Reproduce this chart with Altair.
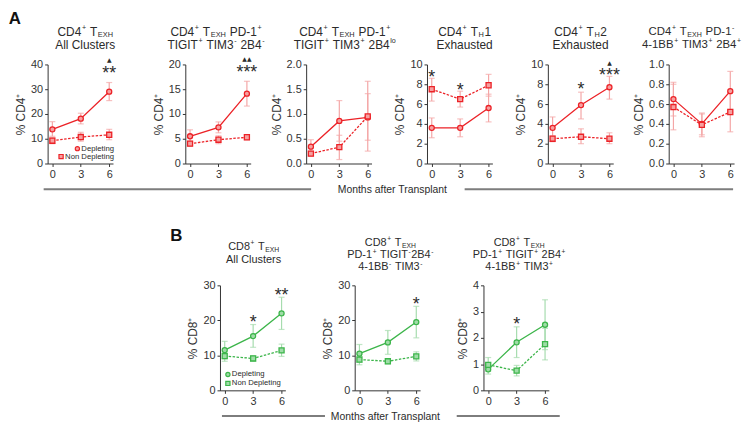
import altair as alt
import pandas as pd

FONT = "Liberation Sans"
TXT = "#2b2b2b"
MONTHS = [0, 3, 6]

# ---------------- Panel A (CD4+) values: mean, lower, upper ----------------
A1_DEP = [13.8, 18.1, 29.0]
A1_DEP_LO = [11.0, 16.0, 25.4]
A1_DEP_HI = [16.9, 20.3, 32.7]
A1_NON = [9.2, 10.7, 11.6]
A1_NON_LO = [8.0, 9.0, 9.6]
A1_NON_HI = [10.5, 12.6, 13.8]

A2_DEP = [5.5, 7.3, 14.1]
A2_DEP_LO = [4.2, 6.2, 11.6]
A2_DEP_HI = [6.8, 8.4, 16.6]
A2_NON = [4.0, 4.8, 5.3]
A2_NON_LO = [3.5, 4.0, 4.8]
A2_NON_HI = [4.5, 5.6, 5.8]

A3_DEP = [0.34, 0.86, 0.93]
A3_DEP_LO = [0.20, 0.45, 0.47]
A3_DEP_HI = [0.48, 1.27, 1.41]
A3_NON = [0.20, 0.33, 0.95]
A3_NON_LO = [0.15, 0.08, 0.25]
A3_NON_HI = [0.25, 0.57, 1.66]

A4_DEP = [3.6, 3.6, 5.6]
A4_DEP_LO = [2.6, 2.7, 4.2]
A4_DEP_HI = [4.6, 4.5, 7.0]
A4_NON = [7.5, 6.5, 7.9]
A4_NON_LO = [6.3, 5.7, 6.8]
A4_NON_HI = [8.6, 7.3, 9.0]

A5_DEP = [3.6, 5.9, 7.7]
A5_DEP_LO = [2.5, 4.5, 6.5]
A5_DEP_HI = [4.7, 7.2, 8.8]
A5_NON = [2.5, 2.7, 2.5]
A5_NON_LO = [2.2, 2.0, 2.0]
A5_NON_HI = [2.8, 3.5, 3.1]

A6_DEP = [0.65, 0.40, 0.73]
A6_DEP_LO = [0.48, 0.29, 0.52]
A6_DEP_HI = [0.82, 0.51, 0.93]
A6_NON = [0.57, 0.39, 0.52]
A6_NON_LO = [0.34, 0.27, 0.32]
A6_NON_HI = [0.80, 0.50, 0.72]

# ---------------- Panel B (CD8+) ----------------
B1_DEP = [11.5, 15.5, 22.0]
B1_DEP_LO = [9.0, 12.3, 17.4]
B1_DEP_HI = [14.0, 18.8, 26.6]
B1_NON = [9.8, 9.1, 11.4]
B1_NON_LO = [8.3, 8.3, 9.7]
B1_NON_HI = [11.3, 9.9, 13.2]

B2_DEP = [10.5, 13.7, 19.5]
B2_DEP_LO = [8.0, 10.3, 15.0]
B2_DEP_HI = [13.1, 17.1, 24.0]
B2_NON = [8.8, 8.3, 9.7]
B2_NON_LO = [7.3, 7.6, 8.4]
B2_NON_HI = [10.3, 9.0, 11.0]

B3_DEP = [0.80, 1.83, 2.50]
B3_DEP_LO = [0.62, 1.25, 1.55]
B3_DEP_HI = [0.98, 2.42, 3.45]
B3_NON = [0.97, 0.75, 1.76]
B3_NON_LO = [0.72, 0.55, 1.16]
B3_NON_HI = [1.25, 0.95, 2.36]

# significance marks: (month, y, text)
A1_ANN = [(6, 38.0, "**"), (6, 42.0, "▲")]
A2_ANN = [(6, 19.2, "***"), (6, 21.3, "▲▲")]
A4_ANN = [(0, 9.1, "*"), (3, 7.8, "*")]
A5_ANN = [(3, 7.9, "*"), (6, 9.3, "***"), (6, 10.2, "▲")]
B1_ANN = [(3, 20.7, "*"), (6, 28.3, "**")]
B2_ANN = [(6, 25.8, "*")]
B3_ANN = [(3, 2.67, "*")]

# titles: list of lines, each a list of (text, kind) with kind n / sup / sub
A1_TITLE = [[("CD4", "n"), ("+", "sup"), (" T", "n"), ("EXH", "sub")],
            [("All Clusters", "n")]]
A2_TITLE = [[("CD4", "n"), ("+", "sup"), (" T", "n"), ("EXH", "sub"), (" PD-1", "n"), ("+", "sup")],
            [("TIGIT", "n"), ("+", "sup"), (" TIM3", "n"), ("-", "sup"), (" 2B4", "n"), ("-", "sup")]]
A3_TITLE = [[("CD4", "n"), ("+", "sup"), (" T", "n"), ("EXH", "sub"), (" PD-1", "n"), ("+", "sup")],
            [("TIGIT", "n"), ("+", "sup"), (" TIM3", "n"), ("+", "sup"), (" 2B4", "n"), ("lo", "sup")]]
A4_TITLE = [[("CD4", "n"), ("+", "sup"), (" T", "n"), ("H", "sub"), ("1", "n")],
            [("Exhausted", "n")]]
A5_TITLE = [[("CD4", "n"), ("+", "sup"), (" T", "n"), ("H", "sub"), ("2", "n")],
            [("Exhausted", "n")]]
A6_TITLE = [[("CD4", "n"), ("+", "sup"), (" T", "n"), ("EXH", "sub"), (" PD-1", "n"), ("-", "sup")],
            [("4-1BB", "n"), ("+", "sup"), (" TIM3", "n"), ("+", "sup"), (" 2B4", "n"), ("+", "sup")]]
B1_TITLE = [[("CD8", "n"), ("+", "sup"), (" T", "n"), ("EXH", "sub")],
            [("All Clusters", "n")]]
B2_TITLE = [[("CD8", "n"), ("+", "sup"), (" T", "n"), ("EXH", "sub")],
            [("PD-1", "n"), ("+", "sup"), (" TIGIT", "n"), ("-", "sup"), ("2B4", "n"), ("-", "sup")],
            [("4-1BB", "n"), ("-", "sup"), (" TIM3", "n"), ("-", "sup")]]
B3_TITLE = [[("CD8", "n"), ("+", "sup"), (" T", "n"), ("EXH", "sub")],
            [("PD-1", "n"), ("+", "sup"), (" TIGIT", "n"), ("+", "sup"), (" 2B4", "n"), ("+", "sup")],
            [("4-1BB", "n"), ("+", "sup"), (" TIM3", "n"), ("+", "sup")]]

SERIES = ["Depleting", "Non Depleting"]
X_LABEL = "Months after Transplant"

RED = ("#ec2227", "#f4a6a6", "#f6a0a0")
GREEN = ("#3cb54a", "#a6dcae", "#9fdca7")

W = 66
HA = 100
HB = 106
LEG_FS = 7.8
SEG_GAP = 0.6

# Arial-metric widths (per 1000 em) to lay out title segments
AW = {'A': 667, 'B': 667, 'C': 722, 'D': 722, 'E': 667, 'F': 611, 'G': 778, 'H': 722, 'I': 278,
      'J': 500, 'K': 667, 'L': 556, 'M': 833, 'N': 722, 'O': 778, 'P': 667, 'Q': 778, 'R': 722,
      'S': 667, 'T': 611, 'U': 722, 'V': 667, 'W': 944, 'X': 667, 'Y': 667, 'Z': 611,
      'a': 556, 'b': 556, 'c': 500, 'd': 556, 'e': 556, 'f': 278, 'g': 556, 'h': 556, 'i': 222,
      'j': 222, 'k': 500, 'l': 222, 'm': 833, 'n': 556, 'o': 556, 'p': 556, 'q': 556, 'r': 333,
      's': 500, 't': 278, 'u': 556, 'v': 500, 'w': 722, 'x': 500, 'y': 500, 'z': 500,
      ' ': 278, '-': 333, '+': 584, '%': 889, '.': 278}

ONE = pd.DataFrame({"k": [0]})


def tw(s, size):
    return sum(AW.get(c, 556) for c in s) / 1000.0 * size


def text_layer(txt, x, y, size, align="left", weight="normal", color=TXT):
    return alt.Chart(ONE).mark_text(
        text=txt, fontSize=size, font=FONT, align=align, baseline="middle",
        fontWeight=weight, color=color
    ).encode(x=alt.value(x), y=alt.value(y))


def title_layers(lines, cx, y0, step, fs):
    out = []
    for i, segs in enumerate(lines):
        y = y0 + i * step
        items = []
        for txt, kind in segs:
            if kind == "n":
                sz, dy = fs, 0
            elif kind == "sup":
                sz, dy = fs * 0.6, -fs * 0.32
            else:
                sz, dy = fs * 0.62, fs * 0.28
            items.append((txt, sz, dy, tw(txt, sz) + SEG_GAP))
        total = sum(it[3] for it in items) - SEG_GAP
        x = cx - total / 2
        for txt, sz, dy, w in items:
            core = txt.strip(" ")
            lead = len(txt) - len(txt.lstrip(" "))
            out.append(text_layer(core, x + tw(" " * lead, sz), y + dy, sz))
            x += w
    return out


def panel(dep, dlo, dhi, non, nlo, nhi, dom, ticks, fmt, ytitle, H, pal, ann,
          title, tdx, ty0, tstep, tfs, extra=()):
    line_c, err_c, fill_c = pal
    df = pd.DataFrame({
        "month": MONTHS * 2,
        "val": dep + non,
        "lo": dlo + nlo,
        "hi": dhi + nhi,
        "series": [SERIES[0]] * 3 + [SERIES[1]] * 3,
    })
    xs = alt.Scale(domain=[-0.5, 6.4], nice=False, zero=False)
    ys = alt.Scale(domain=dom, nice=False, zero=False)
    xax = alt.Axis(values=MONTHS, title=None, grid=False, format="d", tickSize=3,
                   labelPadding=2, labelFontSize=11)
    yax = alt.Axis(values=ticks, format=fmt, title=ytitle, grid=False, tickSize=3,
                   labelPadding=2, titlePadding=3, labelFontSize=11)
    X = alt.X("month:Q", scale=xs, axis=xax)
    Ylo = alt.Y("lo:Q", scale=ys, axis=yax)
    Yhi = alt.Y("hi:Q", scale=ys, axis=yax)
    Y = alt.Y("val:Q", scale=ys, axis=yax)
    base = alt.Chart(df)
    dep_b = base.transform_filter(alt.datum.series == SERIES[0])
    non_b = base.transform_filter(alt.datum.series == SERIES[1])
    layers = [
        base.mark_rule(color=err_c, strokeWidth=1.2).encode(x=X, y=Ylo, y2="hi:Q"),
        base.mark_tick(orient="horizontal", size=6, thickness=1.2, color=err_c).encode(x=X, y=Ylo),
        base.mark_tick(orient="horizontal", size=6, thickness=1.2, color=err_c).encode(x=X, y=Yhi),
        dep_b.mark_line(color=line_c, strokeWidth=1.3).encode(x=X, y=Y),
        non_b.mark_line(color=line_c, strokeWidth=1.3, strokeDash=[2.5, 1.5]).encode(x=X, y=Y),
        dep_b.mark_point(shape="circle", size=26, fill=fill_c, stroke=line_c,
                         strokeWidth=1.3, opacity=1, fillOpacity=1).encode(x=X, y=Y),
        non_b.mark_point(shape="square", size=26, fill=fill_c, stroke=line_c,
                         strokeWidth=1.3, opacity=1, fillOpacity=1).encode(x=X, y=Y),
    ]
    if ann:
        adf = pd.DataFrame({"month": [a[0] for a in ann], "y": [a[1] for a in ann],
                            "t": [a[2] for a in ann]})
        stars = alt.Chart(adf).transform_filter("indexof(datum.t, '*') >= 0")
        tris = alt.Chart(adf).transform_filter("indexof(datum.t, '*') < 0")
        Ya = alt.Y("y:Q", scale=ys, axis=yax)
        layers.append(stars.mark_text(fontSize=18, font=FONT, color=TXT, baseline="alphabetic",
                                      dy=10).encode(x=X, y=Ya, text="t:N"))
        layers.append(tris.mark_text(fontSize=6, font="DejaVu Sans", color=TXT, baseline="alphabetic",
                                     dy=3).encode(x=X, y=Ya, text="t:N"))
    layers += title_layers(title, W / 2 + tdx, ty0, tstep, tfs)
    layers += list(extra)
    return alt.layer(*layers).properties(width=W, height=H)


def rule_layer(x1, x2, y):
    return alt.Chart(ONE).mark_rule(color="#7d7d7d", strokeWidth=2).encode(
        x=alt.value(x1), x2=alt.value(x2), y=alt.value(y))


def legend_layers(pal, pts):
    line_c, err_c, fill_c = pal
    out = []
    for (shape, py, label, tx, align) in pts:
        if align == "right":
            px = tx - tw(label, LEG_FS) - 4
        else:
            px = tx - 4
        out.append(alt.Chart(ONE).mark_point(shape=shape, size=18, fill=fill_c, stroke=line_c,
                                             strokeWidth=1.2, opacity=1, fillOpacity=1)
                   .encode(x=alt.value(px), y=alt.value(py)))
        out.append(text_layer(label, tx, py, LEG_FS, align=align))
    return out


# panel decorations (pixel offsets from the panel's plot origin)
extraA1 = [text_layer("A", -33, -46, 17, align="center", weight="bold", color="#111"),
           rule_layer(-4, 266, 126)]
extraA1 += legend_layers(RED, [("circle", 85, SERIES[0], 67, "right"),
                               ("square", 93, SERIES[1], 67, "right")])
extraA3 = [text_layer(X_LABEL, 87, 127, 10.5, align="center")]
extraA6 = [rule_layer(-206, 65, 126)]

extraB1 = [text_layer("B", -44, -50, 17, align="center", weight="bold", color="#111"),
           rule_layer(2, 106, 132), rule_layer(239, 343, 132),
           text_layer(X_LABEL, 167, 133, 10.5, align="center")]
extraB1 += legend_layers(GREEN, [("circle", 90, SERIES[0], 12, "left"),
                                 ("square", 99, SERIES[1], 12, "left")])

YA = "% CD4⁺"
YB = "% CD8⁺"
TA = dict(ty0=-33, tstep=13, tfs=12)
TB2 = dict(ty0=-39, tstep=13, tfs=11)
TB3 = dict(ty0=-43, tstep=12.5, tfs=11)

pA1 = panel(A1_DEP, A1_DEP_LO, A1_DEP_HI, A1_NON, A1_NON_LO, A1_NON_HI, [0, 40], [0, 10, 20, 30, 40],
            "d", YA, HA, RED, A1_ANN, A1_TITLE, 5, extra=extraA1, **TA)
pA2 = panel(A2_DEP, A2_DEP_LO, A2_DEP_HI, A2_NON, A2_NON_LO, A2_NON_HI, [0, 20], [0, 5, 10, 15, 20],
            "d", YA, HA, RED, A2_ANN, A2_TITLE, -2, **TA)
pA3 = panel(A3_DEP, A3_DEP_LO, A3_DEP_HI, A3_NON, A3_NON_LO, A3_NON_HI, [0, 2], [0, 0.5, 1, 1.5, 2],
            ".1f", YA, HA, RED, [], A3_TITLE, 6, extra=extraA3, **TA)
pA4 = panel(A4_DEP, A4_DEP_LO, A4_DEP_HI, A4_NON, A4_NON_LO, A4_NON_HI, [0, 10], [0, 2, 4, 6, 8, 10],
            "d", YA, HA, RED, A4_ANN, A4_TITLE, 5, **TA)
pA5 = panel(A5_DEP, A5_DEP_LO, A5_DEP_HI, A5_NON, A5_NON_LO, A5_NON_HI, [0, 10], [0, 2, 4, 6, 8, 10],
            "d", YA, HA, RED, A5_ANN, A5_TITLE, 0, **TA)
pA6 = panel(A6_DEP, A6_DEP_LO, A6_DEP_HI, A6_NON, A6_NON_LO, A6_NON_HI, [0, 1], [0, 0.2, 0.4, 0.6, 0.8, 1.0],
            ".1f", YA, HA, RED, [], A6_TITLE, -10, extra=extraA6, ty0=-33, tstep=13, tfs=11.5)

pB1 = panel(B1_DEP, B1_DEP_LO, B1_DEP_HI, B1_NON, B1_NON_LO, B1_NON_HI, [0, 30], [0, 10, 20, 30],
            "d", YB, HB, GREEN, B1_ANN, B1_TITLE, 1, extra=extraB1, **TB2)
pB2 = panel(B2_DEP, B2_DEP_LO, B2_DEP_HI, B2_NON, B2_NON_LO, B2_NON_HI, [0, 30], [0, 10, 20, 30],
            "d", YB, HB, GREEN, B2_ANN, B2_TITLE, 3, **TB3)
pB3 = panel(B3_DEP, B3_DEP_LO, B3_DEP_HI, B3_NON, B3_NON_LO, B3_NON_HI, [0, 4], [0, 1, 2, 3, 4],
            "d", YB, HB, GREEN, B3_ANN, B3_TITLE, 3, **TB3)

spacerB = alt.Chart(ONE).mark_point(opacity=0).encode(
    x=alt.value(0), y=alt.value(0)).properties(width=104, height=HB)

rowA = alt.hconcat(pA1, alt.hconcat(pA2, pA3, pA4, pA5, pA6, spacing=56, bounds="flush"),
                   spacing=73, bounds="flush")
rowB = alt.hconcat(spacerB, pB1, alt.hconcat(pB2, pB3, spacing=64, bounds="flush"),
                   spacing=70, bounds="flush")

chart = alt.vconcat(rowA, rowB, spacing=223, bounds="flush").resolve_scale(
    x="independent", y="independent"
).properties(
    padding=0
).configure_view(stroke=None).configure_axis(
    domainColor="#333333", tickColor="#333333", labelColor="#333333", titleColor="#333333",
    labelFont=FONT, titleFont=FONT, titleFontWeight="normal", titleFontSize=12,
    domainWidth=1, tickWidth=1
)

chart.save("out.html", embed_options={"renderer": "svg", "actions": False})
